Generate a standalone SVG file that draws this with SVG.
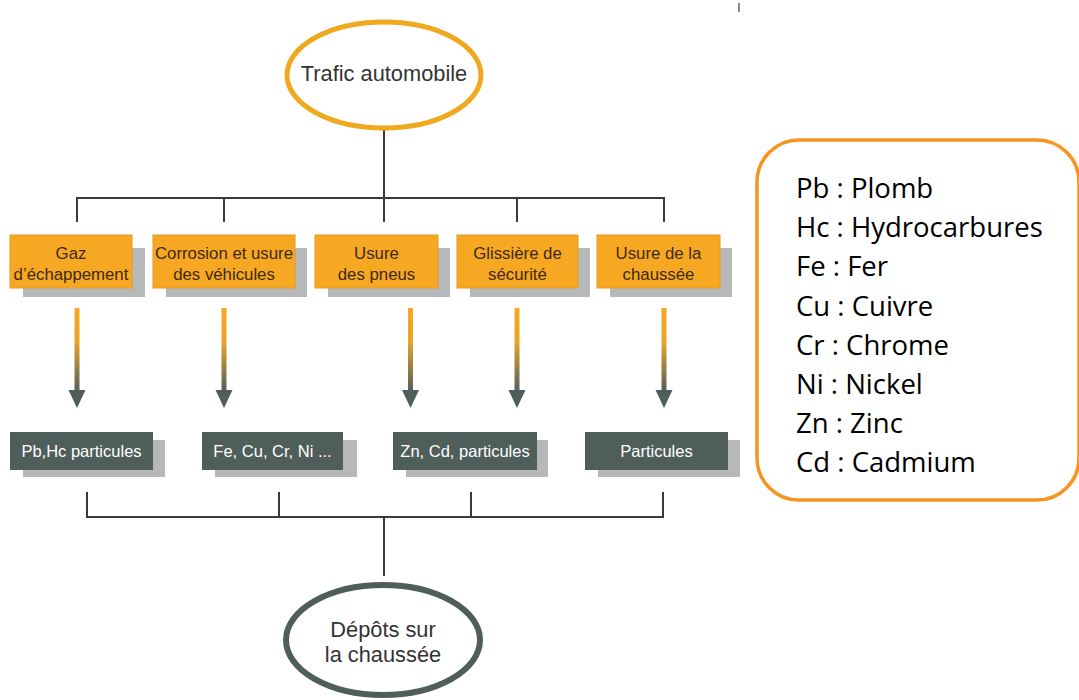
<svg xmlns="http://www.w3.org/2000/svg" width="1079" height="700" viewBox="0 0 1079 700">
<defs>
<linearGradient id="arrowGrad" x1="0" y1="0" x2="0" y2="1">
<stop offset="0" stop-color="#F7A823"/>
<stop offset="0.4" stop-color="#E8A42A"/>
<stop offset="1" stop-color="#4F5E5B"/>
</linearGradient>
</defs>
<style>
.shadow{fill:#B7B8BA}
.obox{fill:#F7A823;stroke:#E39A1C;stroke-width:1}
.dbox{fill:#4F5E5B}
.otxt{font-family:"Liberation Sans",Arial,sans-serif;font-size:16.8px;fill:#3D2A0E;text-anchor:middle}
.dtxt{font-family:"Liberation Sans",Arial,sans-serif;font-size:16.5px;fill:#FFFFFF;text-anchor:middle}
.etxt{font-family:"Liberation Sans",Arial,sans-serif;font-size:21.8px;fill:#333333;text-anchor:middle}
.conn{stroke:#3A3A3A;stroke-width:2;fill:none}
.ahead{fill:#4F5E5B}
.ltxt{font-family:"Open Sans","Liberation Sans",sans-serif;font-size:27.5px;fill:#000000}
</style>
<rect width="1079" height="700" fill="#FFFFFF"/>
<line x1="739" y1="3" x2="739" y2="12" stroke="#8A8A8A" stroke-width="2"/>

<g id="connectors">
<path class="conn" d="M384 130 V198 M77 222 V198 H664 V222 M224 198 V222 M384 198 V222 M517 198 V222"/>
<path class="conn" d="M87 492 V517 H663 V492 M279 492 V517 M471 492 V517 M384 517 V576"/>
<g id="arrow1"><rect x="74.5" y="308" width="5" height="84" fill="url(#arrowGrad)"/><polygon class="ahead" points="68.5,390 85.5,390 77,408"/></g>
<g id="arrow2"><rect x="221.5" y="308" width="5" height="84" fill="url(#arrowGrad)"/><polygon class="ahead" points="215.5,390 232.5,390 224,408"/></g>
<g id="arrow3"><rect x="408" y="308" width="5" height="84" fill="url(#arrowGrad)"/><polygon class="ahead" points="402,390 419,390 410.5,408"/></g>
<g id="arrow4"><rect x="514.5" y="308" width="5" height="84" fill="url(#arrowGrad)"/><polygon class="ahead" points="508.5,390 525.5,390 517,408"/></g>
<g id="arrow5"><rect x="661.5" y="308" width="5" height="84" fill="url(#arrowGrad)"/><polygon class="ahead" points="655.5,390 672.5,390 664,408"/></g>
</g>

<g id="trafic">
<ellipse cx="384" cy="75" rx="97" ry="53" fill="#FFFFFF" stroke="#F0A81E" stroke-width="5"/>
<text class="etxt" x="384" y="81">Trafic automobile</text>
</g>

<g id="gaz">
<rect class="shadow" x="23" y="248" width="122" height="49"/>
<rect class="obox" x="10" y="235" width="122" height="53"/>
<text class="otxt" x="71" y="259">Gaz</text>
<text class="otxt" x="71" y="280">d’échappement</text>
</g>
<g id="corrosion">
<rect class="shadow" x="166" y="248" width="141" height="49"/>
<rect class="obox" x="153" y="235" width="142" height="53"/>
<text class="otxt" x="224" y="259">Corrosion et usure</text>
<text class="otxt" x="224" y="280">des véhicules</text>
</g>
<g id="pneus">
<rect class="shadow" x="328" y="248" width="122" height="49"/>
<rect class="obox" x="315" y="235" width="123" height="53"/>
<text class="otxt" x="376.5" y="259">Usure</text>
<text class="otxt" x="376.5" y="280">des pneus</text>
</g>
<g id="glissiere">
<rect class="shadow" x="470" y="248" width="120" height="49"/>
<rect class="obox" x="457" y="235" width="121" height="53"/>
<text class="otxt" x="517.5" y="259">Glissière de</text>
<text class="otxt" x="517.5" y="280">sécurité</text>
</g>
<g id="chaussee">
<rect class="shadow" x="610" y="248" width="122" height="49"/>
<rect class="obox" x="597" y="235" width="123" height="53"/>
<text class="otxt" x="658.5" y="259">Usure de la</text>
<text class="otxt" x="658.5" y="280">chaussée</text>
</g>

<g id="pbhc">
<rect class="shadow" x="23" y="440" width="142" height="37"/>
<rect class="dbox" x="10" y="432" width="143" height="38"/>
<text class="dtxt" x="81.5" y="457">Pb,Hc particules</text>
</g>
<g id="fecu">
<rect class="shadow" x="215" y="440" width="142" height="37"/>
<rect class="dbox" x="202" y="432" width="141" height="38"/>
<text class="dtxt" x="272.5" y="457">Fe, Cu, Cr, Ni ...</text>
</g>
<g id="zncd">
<rect class="shadow" x="406" y="440" width="142" height="37"/>
<rect class="dbox" x="393" y="432" width="144" height="38"/>
<text class="dtxt" x="465" y="457">Zn, Cd, particules</text>
</g>
<g id="particules">
<rect class="shadow" x="598" y="440" width="142" height="37"/>
<rect class="dbox" x="585" y="432" width="143" height="38"/>
<text class="dtxt" x="656.5" y="457">Particules</text>
</g>

<g id="depots">
<ellipse cx="383" cy="640" rx="97" ry="55" fill="#FFFFFF" stroke="#4F5E5B" stroke-width="6"/>
<text class="etxt" x="383" y="637">Dépôts sur</text>
<text class="etxt" x="383" y="662">la chaussée</text>
</g>

<g id="legend">
<rect x="757" y="140" width="322" height="360" rx="42" ry="42" fill="#FFFFFF" stroke="#F7931E" stroke-width="3.5"/>
<text class="ltxt" x="796" y="198">Pb : Plomb</text>
<text class="ltxt" x="796" y="237">Hc : Hydrocarbures</text>
<text class="ltxt" x="796" y="276">Fe : Fer</text>
<text class="ltxt" x="796" y="316">Cu : Cuivre</text>
<text class="ltxt" x="796" y="355">Cr : Chrome</text>
<text class="ltxt" x="796" y="394">Ni : Nickel</text>
<text class="ltxt" x="796" y="433">Zn : Zinc</text>
<text class="ltxt" x="796" y="472">Cd : Cadmium</text>
</g>
</svg>
